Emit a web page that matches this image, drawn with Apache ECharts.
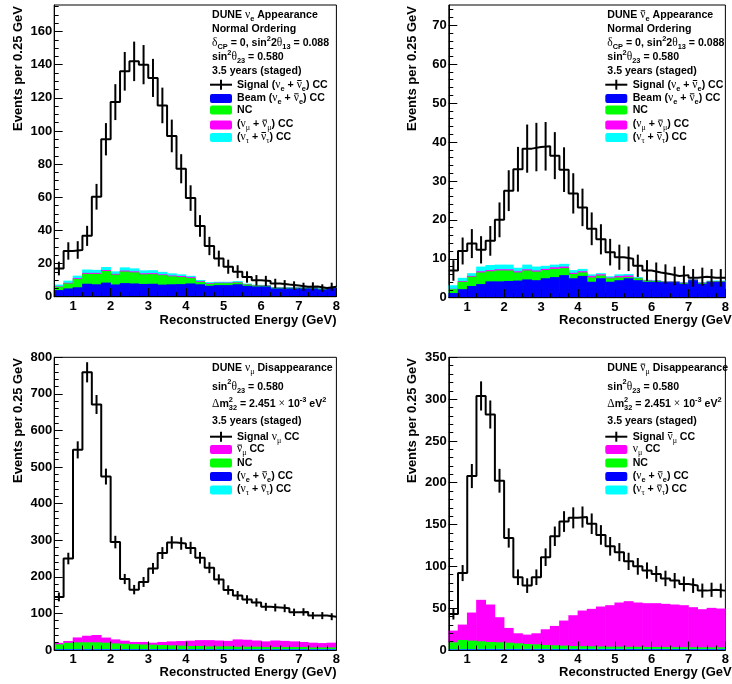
<!DOCTYPE html>
<html>
<head>
<meta charset="utf-8">
<script src="https://cdn.jsdelivr.net/npm/echarts@6/dist/echarts.min.js"></script>
<style>
  html, body { margin: 0; padding: 0; background: #fff; }
  #chart { width: 732px; height: 684px; }
</style>
</head>
<body>
<div id="chart"></div>
<script>
// bin edges, 0.25 GeV wide
const binEdges = [0.5, 0.75, 1, 1.25, 1.5, 1.75, 2, 2.25, 2.5, 2.75, 3, 3.25, 3.5, 3.75, 4, 4.25, 4.5, 4.75,
  5, 5.25, 5.5, 5.75, 6, 6.25, 6.5, 6.75, 7, 7.25, 7.5, 7.75, 8];
const xTickLabels = [1, 2, 3, 4, 5, 6, 7, 8];

// --- nu_e appearance (top left)
const nueSignal = [17, 27.6, 28.2, 36.7, 60.3, 95, 117.4, 136, 142, 140, 132, 115.4, 97, 77.2, 59.5, 42.7,
  30.6, 23, 18.1, 15.1, 11.9, 9.9, 9.5, 8, 7.3, 6.7, 6, 6.2, 5.2, 6];
const nueBeam = [4, 5, 5.7, 7.8, 7.5, 8.5, 7.4, 8.2, 8, 7.7, 7.8, 7.3, 7.5, 7.6, 8, 7.5, 6.6, 7, 7, 7.5,
  6.6, 6.2, 6.2, 5, 5, 5, 5, 5, 4.4, 5.2];
const nueNC = [2, 3, 5, 6, 6.3, 7, 5.9, 7, 6.7, 5.8, 5.8, 5.7, 4.8, 4.3, 3.2, 1.5, 1.2, 1.2, 1.2, 1.1,
  0.8, 0.6, 0.5, 0.5, 0.4, 0.4, 0.4, 0.4, 0.4, 0.3];
const nueNumu = [0.3, 0.4, 0.5, 0.6, 0.6, 0.6, 0.5, 0.6, 0.6, 0.6, 0.6, 0.5, 0.5, 0.6, 0.6, 0.4, 0.4, 0.3,
  0.3, 0.3, 0.2, 0.2, 0.2, 0.1, 0.1, 0.1, 0.1, 0.1, 0.1, 0.1];
const nueNutau = [1, 1.3, 1.5, 2, 1.8, 1.8, 1.5, 1.9, 1.8, 1.8, 1.8, 1.5, 1.3, 1, 0.8, 0.7, 0.6, 0.5, 0.5,
  0.5, 0.3, 0.2, 0.2, 0.2, 0.3, 0.3, 0.3, 0.3, 0.3, 0.2];
const nueYTicks = [0, 20, 40, 60, 80, 100, 120, 140, 160];

// --- anti nu_e appearance (top right)
const nuebarSignal = [7, 12, 13.9, 12.3, 14.6, 20, 27.5, 33, 38.3, 38.7, 38.9, 36.5, 32.9, 26.8, 23.2, 17.7,
  15, 11.7, 10.4, 10, 8.2, 7, 6.5, 6.1, 5.6, 5.8, 5.1, 5.4, 5.1, 5.1];
const nuebarBeam = [1.2, 2.2, 3, 3.5, 4.2, 4.2, 4.3, 4.4, 4.7, 4.5, 5, 5.3, 5.8, 5, 5.6, 4.1, 5, 4.1, 4.5,
  5, 4.5, 4.1, 4.1, 4, 4, 3.6, 4.5, 3.6, 4.1, 4.1];
const nuebarNC = [1, 1.9, 2.4, 3, 2.6, 2.8, 2.7, 2.1, 2.3, 2.2, 2.1, 2.1, 1.8, 1.1, 0.9, 1.1, 0.7, 0.9, 0.7,
  0.3, 0.5, 0.3, 0.2, 0.1, 0.1, 0.2, 0.1, 0.2, 0.1, 0.1];
const nuebarNumu = [0.1, 0.2, 0.2, 0.3, 0.3, 0.3, 0.3, 0.3, 0.3, 0.3, 0.3, 0.4, 0.4, 0.3, 0.3, 0.4, 0.3, 0.2,
  0.4, 0.4, 0.1, 0.1, 0.1, 0.1, 0.1, 0.1, 0.1, 0.1, 0.1, 0.1];
const nuebarNutau = [0.9, 0.8, 0.7, 1.2, 1.3, 1.2, 1.2, 0.9, 1.2, 1, 0.8, 0.7, 0.7, 0.7, 0.6, 0.4, 0.3, 0.3,
  0.4, 0.4, 0.2, 0.1, 0.1, 0.1, 0.1, 0.1, 0.1, 0.1, 0.1, 0.1];
const nuebarYTicks = [0, 10, 20, 30, 40, 50, 60, 70];

// --- nu_mu disappearance (bottom left)
const numuSignal = [145, 250, 547, 759, 671, 474, 295, 194, 165, 186, 223, 265, 294, 291, 279, 252, 225,
  193, 164, 149, 138, 130, 118, 116, 114, 103, 104, 94, 94, 91];
const numuNue = [1.5, 1.5, 1.5, 1.5, 1.5, 1.5, 1.5, 1.5, 1.5, 1.5, 1.5, 1.5, 1.5, 1.5, 1.5, 1.5, 1.5, 1.5,
  1.5, 1.5, 1.5, 1.5, 1.5, 1.5, 1.5, 1.5, 1.5, 1.5, 1.5, 1.5];
const numuNutau = [0.5, 0.7, 0.9, 1, 1, 1, 1, 1, 1, 1, 1, 1, 1, 1, 1, 1, 1, 1, 1, 1, 1, 1, 1, 1, 1, 1, 1,
  1, 1, 1];
const numuNC = [13.5, 17.5, 18.5, 18.5, 18.5, 17.5, 15.5, 14.5, 13.5, 12.5, 12, 11.1, 10.2, 9.5, 8.5, 8.5,
  7.5, 7.5, 7.5, 6.5, 6.5, 6.5, 5.5, 5.5, 5.5, 5.5, 5.5, 4.5, 4.5, 4.5];
const numuWrongSign = [4, 5, 13.5, 18, 20, 14, 11, 8.5, 6, 7, 5.5, 8.4, 10.9, 12.5, 14.5, 16, 17, 16, 15,
  20, 19, 17, 15.6, 18, 17, 15.6, 14, 13, 12, 13];
const numuYTicks = [0, 100, 200, 300, 400, 500, 600, 700, 800];

// --- anti nu_mu disappearance (bottom right)
const numubarSignal = [43, 92, 208, 303.8, 281.6, 202.4, 134, 87, 77, 87, 111, 136, 153.6, 158, 159, 151,
  137.6, 124, 117, 106, 100, 95, 91, 85.6, 83, 79, 77, 71, 72, 71];
const numubarNue = [0.5, 0.6, 0.7, 0.8, 0.8, 0.8, 0.8, 0.8, 0.8, 0.8, 0.8, 0.8, 0.9, 0.9, 0.9, 0.9, 0.9,
  0.9, 0.9, 0.9, 0.9, 0.9, 0.9, 0.9, 0.9, 0.9, 0.9, 0.8, 0.8, 0.8];
const numubarNutau = [0.3, 0.4, 0.5, 0.6, 0.6, 0.6, 0.6, 0.6, 0.6, 0.6, 0.6, 0.6, 0.6, 0.6, 0.6, 0.6, 0.6,
  0.6, 0.6, 0.6, 0.5, 0.5, 0.5, 0.5, 0.5, 0.5, 0.5, 0.5, 0.5, 0.5];
const numubarNC = [8.4, 11, 10, 9, 8.2, 7.8, 7.4, 6.6, 5.8, 5.4, 4.6, 4.2, 3.7, 3.3, 3.1, 2.9, 2.7, 2.5,
  2.5, 2.3, 2.4, 2.2, 2.2, 2.1, 2, 2, 1.9, 1.9, 1.9, 1.9];
const numubarWrongSign = [14, 18.4, 33.6, 49.6, 44.8, 30, 17.6, 12, 11.2, 13.2, 18.8, 23.2, 30, 36.8, 42.6,
  44.8, 47.8, 49.6, 52.8, 54.6, 53, 52.4, 52.4, 51.7, 51, 50.2, 47.9, 45.6, 47.2, 46.4];
const numubarYTicks = [0, 50, 100, 150, 200, 250, 300, 350];

const FONT = '"Liberation Sans", Arial, Helvetica, sans-serif';
const GREEK = '"Liberation Serif", "DejaVu Serif", serif';
const BLUE = '#0000ff', GREEN = '#00ff00', MAGENTA = '#ff00ff', CYAN = '#00ffff';

const panels = [
  { box: { left: 54.2, top: 5, width: 282.2, height: 291.7 }, yMax: 176, yTicks: nueYTicks, yMinor: 5,
    signal: nueSignal, stack: [[nueBeam, BLUE], [nueNC, GREEN], [nueNumu, MAGENTA], [nueNutau, CYAN]] },
  { box: { left: 448.8, top: 5, width: 285.5, height: 292.7 }, yMax: 75.2, yTicks: nuebarYTicks, yMinor: 2,
    signal: nuebarSignal, stack: [[nuebarBeam, BLUE], [nuebarNC, GREEN], [nuebarNumu, MAGENTA], [nuebarNutau, CYAN]] },
  { box: { left: 54.2, top: 357.3, width: 282.2, height: 292.7 }, yMax: 800, yTicks: numuYTicks, yMinor: 20,
    signal: numuSignal, stack: [[numuNue, BLUE], [numuNutau, CYAN], [numuNC, GREEN], [numuWrongSign, MAGENTA]] },
  { box: { left: 448.8, top: 357.3, width: 285.5, height: 292.7 }, yMax: 350, yTicks: numubarYTicks, yMinor: 10,
    signal: numubarSignal, stack: [[numubarNue, BLUE], [numubarNutau, CYAN], [numubarNC, GREEN], [numubarWrongSign, MAGENTA]] }
];

function steps(from, to, step) {
  const out = [];
  for (let v = from; v <= to + 1e-9; v += step) out.push(Math.round(v * 100) / 100);
  return out;
}

const labelStyle = { color: '#000', fontSize: 13, fontWeight: 'bold', fontFamily: FONT };

const grid = [], xAxis = [], yAxis = [], series = [];

panels.forEach((p, g) => {
  grid.push(Object.assign({ show: true, borderColor: '#000', borderWidth: 1, backgroundColor: 'transparent' }, p.box));
  // main x axis + minor ticks axis
  xAxis.push({
    gridIndex: g, type: 'value', min: 0.5, max: 8, position: 'bottom', z: 10,
    axisLine: { show: true, onZero: false, lineStyle: { color: '#000', width: 1 } },
    axisTick: { show: true, inside: true, length: 8.5, customValues: xTickLabels, lineStyle: { color: '#000' } },
    axisLabel: Object.assign({ show: true, margin: 3, customValues: xTickLabels }, labelStyle),
    splitLine: { show: false }
  });
  xAxis.push({
    gridIndex: g, type: 'value', min: 0.5, max: 8, position: 'bottom', z: 10,
    axisLine: { show: false },
    axisTick: { show: true, inside: true, length: 4.5, customValues: steps(0.75, 7.75, 0.25), lineStyle: { color: '#000' } },
    axisLabel: { show: false }, splitLine: { show: false }
  });
  yAxis.push({
    gridIndex: g, type: 'value', min: 0, max: p.yMax, position: 'left', z: 10,
    axisLine: { show: true, onZero: false, lineStyle: { color: '#000', width: 1 } },
    axisTick: { show: true, inside: true, length: 8.5, customValues: p.yTicks, lineStyle: { color: '#000' } },
    axisLabel: Object.assign({ show: true, margin: 2, customValues: p.yTicks }, labelStyle),
    splitLine: { show: false }
  });
  yAxis.push({
    gridIndex: g, type: 'value', min: 0, max: p.yMax, position: 'left', z: 10,
    axisLine: { show: false },
    axisTick: { show: true, inside: true, length: 4.5, customValues: steps(p.yMinor, p.yMax, p.yMinor), lineStyle: { color: '#000' } },
    axisLabel: { show: false }, splitLine: { show: false }
  });

  // stacked backgrounds: cumulative layers, drawn from the top layer down
  const cum = [];
  p.stack.forEach(([vals], i) => {
    cum.push(vals.map((v, k) => v + (i ? cum[i - 1][k] : 0)));
  });
  for (let i = p.stack.length - 1; i >= 0; i--) {
    const color = p.stack[i][1];
    series.push({
      type: 'custom', xAxisIndex: 2 * g, yAxisIndex: 2 * g, z: 2, silent: true,
      encode: { x: [0, 1], y: [2, 3] },
      data: cum[i].map((top, k) => [binEdges[k], binEdges[k + 1], 0, top]),
      renderItem: function (params, api) {
        const a = api.coord([api.value(0), api.value(3)]);
        const b = api.coord([api.value(1), api.value(2)]);
        return { type: 'rect', shape: { x: a[0] - 0.3, y: a[1], width: b[0] - a[0] + 0.6, height: b[1] - a[1] },
          style: { fill: color } };
      }
    });
  }

  // signal histogram outline
  const stepData = p.signal.map((v, k) => [binEdges[k], v]);
  stepData.push([binEdges[binEdges.length - 1], p.signal[p.signal.length - 1]]);
  series.push({
    type: 'line', xAxisIndex: 2 * g, yAxisIndex: 2 * g, z: 4, step: 'end', symbol: 'none', silent: true,
    data: stepData, lineStyle: { color: '#000', width: 2 }
  });
  // statistical error bars (sqrt N) at bin centres
  series.push({
    type: 'custom', xAxisIndex: 2 * g, yAxisIndex: 2 * g, z: 4, silent: true,
    data: p.signal.map((v, k) => [(binEdges[k] + binEdges[k + 1]) / 2, v]),
    renderItem: function (params, api) {
      const c = api.value(0), v = api.value(1), e = Math.sqrt(v);
      const lo = api.coord([c, v - e]), hi = api.coord([c, v + e]);
      return { type: 'line', shape: { x1: lo[0], y1: lo[1], x2: hi[0], y2: hi[1] },
        style: { stroke: '#000', lineWidth: 2 } };
    }
  });
});

// ---- legend text: small layout of runs (normal, greek, sub, sup, overlined nu)
const measure = document.createElement('canvas').getContext('2d');
const RUN = {
  n: { font: 'bold 10.6px ' + FONT, dy: 0 },
  g: { font: '11.5px ' + GREEK, dy: 0 },
  s: { font: 'bold 7.4px ' + FONT, dy: 4 },
  sg: { font: '8px ' + GREEK, dy: 4 },
  p: { font: 'bold 7.4px ' + FONT, dy: -4.5 }
};
const n = t => [t, 'n'], g = t => [t, 'g'], bar = t => [t, 'bar'], s = t => [t, 's'], sg = t => [t, 'sg'],
  p = t => [t, 'p'], stk = (up, dn) => [[up, dn], 'stk'];

function textEl(x, y, t, font) {
  return { type: 'text', x: x, y: y, z: 20, silent: true,
    style: { text: t, font: font, fill: '#000', align: 'left', verticalAlign: 'middle',
      textAlign: 'left', textVerticalAlign: 'middle' } };
}
function width(t, font) {
  measure.font = font;
  return measure.measureText(t).width;
}
function textLine(x, y, runs) {
  const out = [];
  let cx = x;
  runs.forEach(([t, k]) => {
    if (k === 'stk') {
      out.push(textEl(cx, y + RUN.p.dy, t[0], RUN.p.font), textEl(cx, y + RUN.s.dy, t[1], RUN.s.font));
      cx += Math.max(width(t[0], RUN.p.font), width(t[1], RUN.s.font));
      return;
    }
    const r = RUN[k === 'bar' ? 'g' : k];
    out.push(textEl(cx, y + r.dy, t, r.font));
    const w = width(t, r.font);
    if (k === 'bar') {
      out.push({ type: 'line', z: 20, silent: true, shape: { x1: cx + 0.5, y1: y - 4.2, x2: cx + w - 0.3, y2: y - 4.2 },
        style: { stroke: '#000', lineWidth: 1 } });
    }
    cx += w;
  });
  return out;
}
function swatch(x, y, color) {
  return { type: 'rect', z: 20, silent: true, shape: { x: x, y: y - 4.5, width: 22, height: 9, r: 2 }, style: { fill: color } };
}
function crossMark(x, y) {
  return [
    { type: 'line', z: 20, silent: true, shape: { x1: x, y1: y, x2: x + 22, y2: y }, style: { stroke: '#000', lineWidth: 2 } },
    { type: 'line', z: 20, silent: true, shape: { x1: x + 11, y1: y - 5, x2: x + 11, y2: y + 5 }, style: { stroke: '#000', lineWidth: 2 } }
  ];
}
function axisTitles(yx, yTop, xRight, xY) {
  return [
    { type: 'text', x: yx, y: yTop, rotation: Math.PI / 2, z: 20, silent: true,
      style: { text: 'Events per 0.25 GeV', font: 'bold 13px ' + FONT, fill: '#000',
        align: 'right', verticalAlign: 'middle', textAlign: 'right', textVerticalAlign: 'middle' } },
    { type: 'text', x: xRight, y: xY, z: 20, silent: true,
      style: { text: 'Reconstructed Energy (GeV)', font: 'bold 13px ' + FONT, fill: '#000',
        align: 'right', verticalAlign: 'middle', textAlign: 'right', textVerticalAlign: 'middle' } }
  ];
}

const graphics = [];
graphics.push(...axisTitles(18, 6, 336.5, 320.7), ...axisTitles(412, 6, 736, 320.7),
  ...axisTitles(18, 358, 336.5, 672.7), ...axisTitles(412, 358, 736, 672.7));

function appearanceLegend(hx, sx, tx, anti) {
  return [
    ...textLine(hx, 15, [n('DUNE '), anti ? bar('ν') : g('ν'), s('e'), n(' Appearance')]),
    ...textLine(hx, 29.3, [n('Normal Ordering')]),
    ...textLine(hx, 43.3, [g('δ'), s('CP'), n(' = 0, sin'), p('2'), n('2'), g('θ'), s('13'), n(' = 0.088')]),
    ...textLine(hx, 57.3, [n('sin'), p('2'), g('θ'), s('23'), n(' = 0.580')]),
    ...textLine(hx, 71, [n('3.5 years (staged)')]),
    ...crossMark(sx, 84.7),
    ...textLine(tx, 84.7, [n('Signal ('), g('ν'), s('e'), n(' + '), bar('ν'), s('e'), n(') CC')]),
    swatch(sx, 98.5, BLUE),
    ...textLine(tx, 98, [n('Beam ('), g('ν'), s('e'), n(' + '), bar('ν'), s('e'), n(') CC')]),
    swatch(sx, 110, GREEN),
    ...textLine(tx, 110, [n('NC')]),
    swatch(sx, 125, MAGENTA),
    ...textLine(tx, 124.3, [n('('), g('ν'), sg('μ'), n(' + '), bar('ν'), sg('μ'), n(') CC')]),
    swatch(sx, 137.5, CYAN),
    ...textLine(tx, 136.7, [n('('), g('ν'), sg('τ'), n(' + '), bar('ν'), sg('τ'), n(') CC')])
  ];
}
function disappearanceLegend(hx, sx, tx, anti) {
  const nu = anti ? bar('ν') : g('ν');
  const other = anti ? g('ν') : bar('ν');
  return [
    ...textLine(hx, 368.3, [n('DUNE '), nu, sg('μ'), n(' Disappearance')]),
    ...textLine(hx, 386.7, [n('sin'), p('2'), g('θ'), s('23'), n(' = 0.580')]),
    ...textLine(hx, 404, [g('Δ'), n('m'), stk('2', '32'), n(' = 2.451 '), g('×'), n(' 10'), p('-3'), n(' eV'), p('2')]),
    ...textLine(hx, 421, [n('3.5 years (staged)')]),
    ...crossMark(sx, 436.7),
    ...textLine(tx, 436.7, [n('Signal '), nu, sg('μ'), n(' CC')]),
    swatch(sx, 449.5, MAGENTA),
    ...textLine(tx, 449.3, [other, sg('μ'), n(' CC')]),
    swatch(sx, 463, GREEN),
    ...textLine(tx, 463.3, [n('NC')]),
    swatch(sx, 476.5, BLUE),
    ...textLine(tx, 476, [n('('), g('ν'), s('e'), n(' + '), bar('ν'), s('e'), n(') CC')]),
    swatch(sx, 490, CYAN),
    ...textLine(tx, 489.3, [n('('), g('ν'), sg('τ'), n(' + '), bar('ν'), sg('τ'), n(') CC')])
  ];
}
graphics.push(...appearanceLegend(212, 210, 237, false), ...appearanceLegend(607.3, 605.3, 632.7, true),
  ...disappearanceLegend(212, 210, 237, false), ...disappearanceLegend(607.3, 605.3, 632.7, true));

const chart = echarts.init(document.getElementById('chart'));
chart.setOption({
  animation: false,
  backgroundColor: '#fff',
  grid: grid,
  xAxis: xAxis,
  yAxis: yAxis,
  series: series,
  graphic: { elements: graphics }
});
</script>
</body>
</html>
